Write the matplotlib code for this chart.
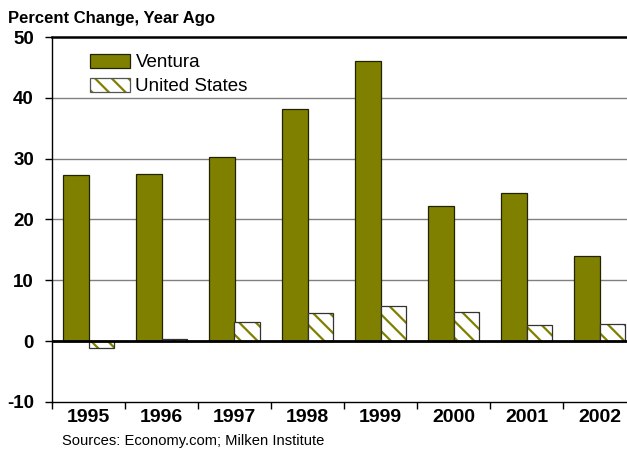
import matplotlib
matplotlib.use("Agg")
import matplotlib.pyplot as plt
import numpy as np
from matplotlib.patches import Patch

plt.rcParams['font.family'] = ['Liberation Sans', 'DejaVu Sans']
plt.rcParams['hatch.linewidth'] = 1.6
plt.rcParams['axes.unicode_minus'] = False

years = ['1995', '1996', '1997', '1998', '1999', '2000', '2001', '2002']
ventura = [27.3, 27.4, 30.3, 38.2, 46.1, 22.3, 24.4, 14.0]
united_states = [-1.2, 0.3, 3.1, 4.7, 5.8, 4.8, 2.6, 2.9]

OLIVE = '#808000'
fig = plt.figure(figsize=(6.27, 4.5), dpi=100)
ax = fig.add_axes([52/627, 1-402/450, 584/627, 365/450])

x = np.arange(len(years))
w = 0.35
ax.bar(x - w/2, ventura, w, color=OLIVE, edgecolor='#222200', linewidth=0.9,
       label='Ventura', zorder=3)
# hatched fill (hatch colour follows edge colour), then a dark outline on top
ax.bar(x + w/2, united_states, w, color='white', edgecolor=OLIVE, linewidth=0,
       hatch='\\\\', zorder=3)
ax.bar(x + w/2, united_states, w, fill=False, edgecolor='#333333', linewidth=0.9,
       zorder=3.5)

ax.set_xlim(-0.5, len(years) - 0.5)
ax.set_ylim(-10, 50)
ax.set_yticks([-10, 0, 10, 20, 30, 40, 50])
for v in [10, 20, 30, 40]:
    ax.axhline(v, color='#808080', linewidth=1.0, zorder=1)
ax.axhline(0, color='black', linewidth=2.0, zorder=4)

ax.spines['top'].set_linewidth(1.8)
ax.spines['right'].set_visible(False)
ax.spines['left'].set_linewidth(1.0)
ax.spines['bottom'].set_linewidth(1.0)

ax.set_xticks(x)
ax.set_xticklabels(years, fontsize=14, fontweight='bold')
ax.tick_params(axis='x', which='major', length=0, pad=5)
ax.set_xticks(np.arange(len(years)) - 0.5, minor=True)
ax.tick_params(axis='x', which='minor', length=5, direction='out', width=1)
ax.tick_params(axis='y', length=5, direction='out', width=1, pad=8)
for lab in ax.get_yticklabels():
    lab.set_fontsize(13.5)
    lab.set_fontweight('bold')

h1 = Patch(facecolor=OLIVE, edgecolor='#222200', linewidth=0.9)
h2 = Patch(facecolor='white', edgecolor=OLIVE, hatch='\\\\', linewidth=0)
h2b = Patch(fill=False, edgecolor='#555555', linewidth=0.9)
leg = ax.legend([h1, (h2, h2b)], ['Ventura', 'United States'],
                loc='upper left', bbox_to_anchor=(0.037, 1.0), frameon=False,
                fontsize=13.5, handlelength=2.1, handleheight=0.75,
                labelspacing=0.35, handletextpad=0.3)

fig.text(8/627, 1-18/450, 'Percent Change, Year Ago', fontsize=12,
         fontweight='bold', va='center', ha='left')
fig.text(62/627, 1-441/450, 'Sources: Economy.com; Milken Institute', fontsize=10.6,
         va='center', ha='left')

fig.savefig('out.png', dpi=100)
